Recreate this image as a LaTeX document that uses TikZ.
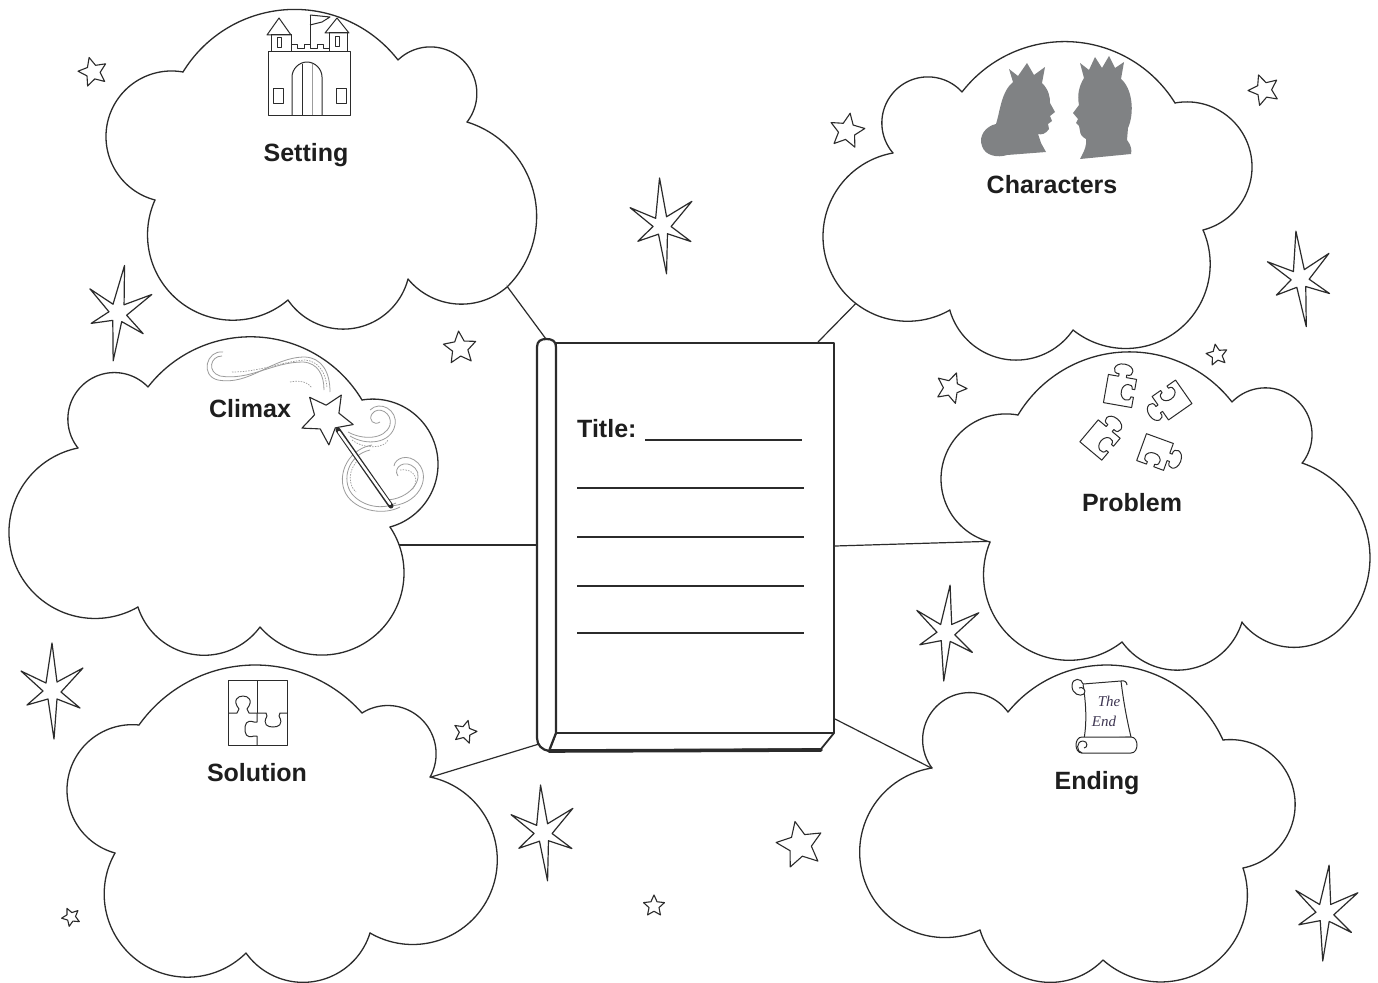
\documentclass[tikz,border=0pt]{standalone}
\usepackage{fontspec}
\newfontfamily\labelfont{Liberation Sans}
\newfontfamily\scrollfont{Liberation Serif}
\usetikzlibrary{shapes.geometric,calc}

\definecolor{ink}{HTML}{2B2B2B}
\definecolor{txt}{HTML}{1E1E1E}
\definecolor{silhouette}{HTML}{808284}
\definecolor{swirlgray}{HTML}{9C9C9C}
\definecolor{scrollink}{HTML}{3E3652}

% circle through A, P, B (px); gives centre, radius and the angle range A -> B passing P
\newcommand\bumpsetup[6]{%
  \pgfmathsetmacro\cbAx{#1/100}\pgfmathsetmacro\cbAy{#2/100}%
  \pgfmathsetmacro\cbPx{#3/100}\pgfmathsetmacro\cbPy{#4/100}%
  \pgfmathsetmacro\cbBx{#5/100}\pgfmathsetmacro\cbBy{#6/100}%
  \pgfmathsetmacro\cbD{2*(\cbAx*(\cbPy-\cbBy)+\cbPx*(\cbBy-\cbAy)+\cbBx*(\cbAy-\cbPy))}%
  \pgfmathsetmacro\cbSA{\cbAx*\cbAx+\cbAy*\cbAy}%
  \pgfmathsetmacro\cbSP{\cbPx*\cbPx+\cbPy*\cbPy}%
  \pgfmathsetmacro\cbSB{\cbBx*\cbBx+\cbBy*\cbBy}%
  \pgfmathsetmacro\cbUx{(\cbSA*(\cbPy-\cbBy)+\cbSP*(\cbBy-\cbAy)+\cbSB*(\cbAy-\cbPy))/\cbD}%
  \pgfmathsetmacro\cbUy{(\cbSA*(\cbBx-\cbPx)+\cbSP*(\cbAx-\cbBx)+\cbSB*(\cbPx-\cbAx))/\cbD}%
  \pgfmathsetmacro\cbR{100*veclen(\cbAx-\cbUx,\cbAy-\cbUy)}%
  \pgfmathsetmacro\cbTa{atan2(\cbAy-\cbUy,\cbAx-\cbUx)}%
  \pgfmathsetmacro\cbTb{atan2(\cbBy-\cbUy,\cbBx-\cbUx)}%
  \pgfmathsetmacro\cbTp{atan2(\cbPy-\cbUy,\cbPx-\cbUx)}%
  \pgfmathsetmacro\cbDb{Mod(\cbTb-\cbTa,360)}%
  \pgfmathsetmacro\cbDp{Mod(\cbTp-\cbTa,360)}%
  \pgfmathsetmacro\cbLo{(\cbDp<\cbDb) ? \cbTa : \cbTa+\cbDb-360}%
  \pgfmathsetmacro\cbHi{(\cbDp<\cbDb) ? \cbTa+\cbDb : \cbTa}%
  \pgfmathsetmacro\cbCx{100*\cbUx}%
  \pgfmathsetmacro\cbCy{100*\cbUy}%
}

% a cloud: list of bumps, and the polygon of its cusps
\newcommand\cloudshape[2]{%
  \fill[white] #2;
  \foreach \pa/\pb/\pc/\pd/\pe/\pf in #1 {%
    \bumpsetup{\pa}{\pb}{\pc}{\pd}{\pe}{\pf}%
    \fill[white] plot[domain=\cbLo:\cbHi, samples=80, variable=\t] ({\cbCx+\cbR*cos(\t)},{\cbCy+\cbR*sin(\t)}) -- cycle;
  }%
  \foreach \pa/\pb/\pc/\pd/\pe/\pf in #1 {%
    \bumpsetup{\pa}{\pb}{\pc}{\pd}{\pe}{\pf}%
    \draw[cloudline] plot[domain=\cbLo:\cbHi, samples=80, variable=\t] ({\cbCx+\cbR*cos(\t)},{\cbCy+\cbR*sin(\t)});
  }%
}

\def\setbumps{183/72/307/10/398/60, 398/60/433/47/467/122, 467/122/536/205/507/287, 507/287/457/304/408/279, 408/279/347/329/288/300, 288/300/227/320/155/200, 155/200/106/135/183/72}
\def\charbumps{962/92/1075/42/1175/103, 1175/103/1252/165/1203/230, 1203/230/1135/348/1073/330, 1073/330/1015/360/950/310, 950/310/823/235/893/153, 893/153/925/77/962/92}
\def\climaxbumps{78/448/108/373/148/387, 148/387/258/337/362/400, 362/400/438/463/390/527, 390/527/325/655/260/627, 260/627/198/655/138/607, 138/607/9/530/78/448}
\def\probbumps{1018/415/1135/352/1232/402, 1232/402/1268/388/1302/463, 1302/463/1370/558/1342/627, 1342/627/1288/647/1242/622, 1242/622/1182/670/1122/642, 1122/642/1062/660/990/542, 990/542/941/478/1018/415}
\def\solbumps{139/725/254/665/362/713, 362/713/434/740/430/777, 430/777/497/867/370/933, 370/933/310/982/246/953, 246/953/182/977/115/853, 115/853/67/790/139/725}
\def\endbumps{1008/712/1107/665/1223/740, 1223/740/1295/800/1243/868, 1243/868/1179/980/1103/960, 1103/960/1043/982/980/930, 980/930/860/860/932/768, 932/768/964/693/1008/712}

\tikzset{
  cloudline/.style={draw=ink, line width=1.3pt, line cap=round, line join=round},
  link/.style={draw=ink, line width=1.2pt},
  lbl/.style={font=\labelfont\bfseries\fontsize{25}{30}\selectfont, text=txt, anchor=base, inner sep=0pt},
  smallstar/.style={star, star points=5, star point ratio=2.1, draw=ink, line width=1.1pt, fill=white, inner sep=0pt},
  twinkleline/.style={draw=ink, line width=1.2pt, fill=white},
  swirl/.style={draw=swirlgray, line width=0.8pt},
  swirldash/.style={draw=swirlgray, line width=0.7pt, dash pattern=on 1.5pt off 1.2pt},
  iconline/.style={draw=ink, line width=1pt},
  coverbox/.style={draw=ink, line width=2pt, fill=white, minimum width=278pt, minimum height=390pt, inner sep=0pt},
  scrolltext/.style={font=\scrollfont\itshape\fontsize{15}{15}\selectfont, text=scrollink, inner sep=0pt},
}

% six-armed twinkle star
\newcommand\twinkle[4]{%
  \draw[twinkleline, shift={(#1,#2)}, rotate=#4, scale=#3] (0,-47) -- (5,-8) -- (31,-22) -- (9,2) -- (28,18) -- (5,9) -- (2,49) -- (-4,9) -- (-25,15) -- (-9,1) -- (-31,-19) -- (-6,-7) -- cycle;}

% one jigsaw piece
\newcommand\puzzlepiece[4]{%
  \draw[iconline, fill=white, shift={(#1,#2)}, rotate=#3, scale=#4] (-11,-11) -- (11,-11) -- (11,-3) -- (13,-3) .. controls (12,-9) and (21,-9) .. (21,0) .. controls (21,9) and (12,9) .. (13,3) -- (11,3) -- (11,11) -- (3,11) -- (3,9) .. controls (8,9) and (7,1) .. (0,1) .. controls (-7,1) and (-8,9) .. (-3,9) -- (-3,11) -- (-11,11) -- cycle;}

\begin{document}
\begin{tikzpicture}[x=1pt,y=-1pt,line join=round]
\useasboundingbox (0,0) rectangle (1378,982);
\fill[white] (0,0) rectangle (1378,982);

% ---------- the book ----------
\node[coverbox] (book) at (695,538) {};
\draw[ink, line width=1.8pt, fill=white] (556,733) -- (834,733) -- (821,749) -- (549,751) -- cycle;
\draw[ink, line width=3.6pt, line cap=round] (549,751) -- (821,750);
\draw[ink, line width=2.2pt, fill=white] (556,733) -- (556,347) .. controls (556,341) and (552,339) .. (546.5,339) .. controls (541,339) and (537,341) .. (537,347) -- (537,738) .. controls (537,745) and (542,750) .. (549,751) -- cycle;
\coordinate (spinetop) at (546,339);
\coordinate (spineleft) at (537,545);
\coordinate (spinefoot) at (539,744);

\node[lbl, anchor=base west] (title) at (577,437) {Title:};
\draw[ink, line width=1.3pt] (645,440) -- (802,440);
\foreach \yy in {488,537,586,633} \draw[ink, line width=1.3pt] (577,\yy) -- (804,\yy);

% ---------- connectors ----------
\coordinate (setlink) at (495,270);
\coordinate (charlink) at (872,287);
\coordinate (climaxlink) at (385,545);
\coordinate (problink) at (1000,541);
\coordinate (sollink) at (418,781);
\coordinate (endlink) at (945,775);
\draw[link] (spinetop) -- (setlink);
\draw[link] ($(book.north east)+(-17,0)$) -- (charlink);
\draw[link] (spineleft) -- (climaxlink);
\draw[link] ($(book.east)+(0,8)$) -- (problink);
\draw[link] (spinefoot) -- (sollink);
\draw[link] ($(book.south east)+(0,-15)$) -- (endlink);

% ---------- clouds ----------
\cloudshape{\setbumps}{(183,72) -- (398,60) -- (467,122) -- (507,287) -- (408,279) -- (288,300) -- (155,200) -- cycle}
\cloudshape{\charbumps}{(962,92) -- (1175,103) -- (1203,230) -- (1073,330) -- (950,310) -- (893,153) -- cycle}
\cloudshape{\climaxbumps}{(78,448) -- (148,387) -- (362,400) -- (390,527) -- (260,627) -- (138,607) -- cycle}
\cloudshape{\probbumps}{(1018,415) -- (1232,402) -- (1302,463) -- (1342,627) -- (1242,622) -- (1122,642) -- (990,542) -- cycle}
\cloudshape{\solbumps}{(139,725) -- (362,713) -- (430,777) -- (370,933) -- (246,953) -- (115,853) -- cycle}
\cloudshape{\endbumps}{(1008,712) -- (1223,740) -- (1243,868) -- (1103,960) -- (980,930) -- (932,768) -- cycle}

% ---------- castle ----------
\begin{scope}[iconline]
  \draw[fill=white] (268,52) rectangle (350,115);
  \draw (271,35) rectangle (291,52);
  \draw (267,35) -- (279,18) -- (291,35) -- cycle;
  \draw (277,38) rectangle (281,48);
  \draw (329,33) rectangle (347,52);
  \draw (325,33) -- (337,18) -- (349,33) -- cycle;
  \draw (335,37) rectangle (339,47);
  \draw (291,52) -- (291,45) -- (297,45) -- (297,49) -- (304,49) -- (304,45) -- (310,45) -- (310,49) -- (317,49) -- (317,45) -- (323,45) -- (323,49) -- (329,49);
  \draw (310,45) -- (310,15);
  \draw (310,15) -- (330,17) -- (322,22) -- (310,25);
  \draw (292,115) -- (292,77) .. controls (292,69) and (299,62) .. (307,62) .. controls (315,62) and (322,69) .. (322,77) -- (322,115);
  \draw (302,64) -- (302,115);
  \draw[draw=swirlgray] (312,64) -- (312,115);
  \draw (273,88) rectangle (283,103);
  \draw (336,88) rectangle (346,103);
\end{scope}

% ---------- queen and king ----------
\fill[silhouette] (1013,82) -- (1009,69) -- (1018,76) -- (1027,63) -- (1034,75) -- (1045,67) -- (1042,83)
  .. controls (1049,90) and (1050,97) .. (1050,103) -- (1055,112) -- (1050,116) -- (1052,121) -- (1048,124) -- (1049,129)
  .. controls (1046,134) and (1041,135) .. (1038,134) -- (1041,143) -- (1046,152) -- (1007,155)
  .. controls (998,158) and (985,156) .. (982,146) .. controls (978,136) and (986,126) .. (996,124)
  .. controls (1000,112) and (1001,92) .. (1013,82) -- cycle;
\fill[silhouette] (1084,78) -- (1080,63) -- (1089,70) -- (1095,57) -- (1102,68) -- (1109,56) -- (1115,68) -- (1124,62) -- (1121,79)
  .. controls (1132,88) and (1135,112) .. (1128,128) -- (1127,140) .. controls (1131,145) and (1132,150) .. (1131,154)
  -- (1080,159) .. controls (1085,150) and (1087,144) .. (1086,139)
  .. controls (1082,137) and (1080,134) .. (1080,131) -- (1079,126) -- (1076,123) -- (1078,119) -- (1073,113) -- (1079,105)
  .. controls (1077,95) and (1079,86) .. (1084,78) -- cycle;

% ---------- magic wand ----------
\draw[swirl] (223,352) .. controls (206,350) and (200,376) .. (218,380) .. controls (250,386) and (272,357) .. (305,357) .. controls (322,358) and (330,372) .. (330,392);
\draw[swirl] (222,356) .. controls (210,356) and (207,372) .. (220,376) .. controls (250,381) and (272,362) .. (303,362) .. controls (318,363) and (324,375) .. (324,390);
\draw[swirldash] (232,372) .. controls (260,372) and (280,362) .. (305,360) .. controls (318,361) and (326,372) .. (327,388);
\draw[swirldash] (290,382) .. controls (300,380) and (308,382) .. (312,388);
\draw[swirl] (348,432) .. controls (362,440) and (385,440) .. (390,425) .. controls (393,413) and (378,405) .. (372,414) .. controls (368,420) and (374,426) .. (380,422);
\draw[swirl] (350,436) .. controls (366,446) and (391,444) .. (395,425) .. controls (398,410) and (380,400) .. (370,410);
\draw[swirldash] (352,440) .. controls (365,450) and (385,448) .. (388,440);
\draw[swirl] (372,445) .. controls (345,450) and (335,480) .. (348,497) .. controls (360,512) and (385,515) .. (400,507);
\draw[swirl] (370,450) .. controls (348,455) and (341,480) .. (352,494) .. controls (363,507) and (383,510) .. (396,503);
\draw[swirldash] (358,460) .. controls (348,470) and (348,485) .. (356,492);
\draw[swirl] (385,500) .. controls (410,500) and (425,478) .. (415,468) .. controls (405,458) and (392,468) .. (398,476);
\draw[swirl] (388,506) .. controls (418,506) and (432,478) .. (418,463) .. controls (408,453) and (395,458) .. (394,466);
\draw[swirldash] (400,470) .. controls (415,468) and (420,480) .. (412,490);
\draw[ink, line width=5pt, line cap=round] (338,430) -- (391,506);
\draw[white, line width=2.4pt, line cap=round] (339,432) -- (390,504);
\node[smallstar, minimum size=54pt, shape border rotate=-32] (wandstar) at (327,418) {};

% ---------- jigsaw pieces ----------
\puzzlepiece{1120}{391}{80}{1.3}
\puzzlepiece{1172}{400}{215}{1.3}
\puzzlepiece{1100}{440}{50}{1.3}
\puzzlepiece{1155}{452}{-20}{1.3}

\begin{scope}[iconline]
  \draw (228,680) rectangle (287,745);
  \draw (257,680) -- (257,713);
  \draw (228,713) -- (237,713) -- (239,709) .. controls (232,700) and (238,696) .. (243,696) .. controls (248,696) and (254,700) .. (247,709) -- (249,713) -- (257,713)
        -- (266,713) -- (267,716) .. controls (262,725) and (268,727) .. (273,727) .. controls (278,727) and (284,725) .. (279,716) -- (280,713) -- (287,713);
  \draw (257,713) -- (257,722) -- (254,722) .. controls (246,719) and (245,725) .. (245,729) .. controls (245,733) and (246,739) .. (254,736) -- (257,736) -- (257,745);
\end{scope}

% ---------- scroll ----------
\begin{scope}[iconline]
  \draw[fill=white] (1083,684) -- (1121,681) .. controls (1123,698) and (1126,716) .. (1131,737) -- (1084,739) .. controls (1087,722) and (1086,703) .. (1083,684);
  \draw[fill=white] (1083,684) .. controls (1082,678) and (1072,677) .. (1072,686) .. controls (1072,694) and (1080,697) .. (1084,694) .. controls (1087,690) and (1082,686) .. (1079,688);
  \draw (1121,681) .. controls (1124,680) and (1127,682) .. (1127,685);
  \draw[fill=white] (1082,737) -- (1131,737) .. controls (1139,737) and (1139,753) .. (1131,753) -- (1082,753) .. controls (1074,753) and (1074,737) .. (1082,737) -- cycle;
  \draw (1082,753) .. controls (1076,752) and (1076,741) .. (1083,741) .. controls (1088,741) and (1088,748) .. (1084,748);
\end{scope}
\node[scrolltext] (scrollthe) at (1109,701) {The};
\node[scrolltext] (scrollend) at (1104,721) {End};

% ---------- labels ----------
\node[lbl] (setting) at (306,161) {Setting};
\node[lbl] (characters) at (1052,193) {Characters};
\node[lbl] (climax) at (250,417) {Climax};
\node[lbl] (problem) at (1132,511) {Problem};
\node[lbl] (solution) at (257,781) {Solution};
\node[lbl] (ending) at (1097,789) {Ending};

% ---------- stars ----------
\node[smallstar, minimum size=30pt, shape border rotate=15] (star1) at (93,72) {};
\node[smallstar, minimum size=36pt, shape border rotate=-10] (star2) at (847,131) {};
\node[smallstar, minimum size=32pt, shape border rotate=20] (star3) at (1264,90) {};
\node[smallstar, minimum size=34pt, shape border rotate=5] (star4) at (460,348) {};
\node[smallstar, minimum size=32pt, shape border rotate=-20] (star5) at (951,388) {};
\node[smallstar, minimum size=22pt, shape border rotate=10] (star6) at (1217,355) {};
\node[smallstar, minimum size=24pt, shape border rotate=-15] (star7) at (465,732) {};
\node[smallstar, minimum size=48pt, shape border rotate=12] (star8) at (800,845) {};
\node[smallstar, minimum size=22pt, shape border rotate=0] (star9) at (654,906) {};
\node[smallstar, minimum size=19pt, shape border rotate=25] (star10) at (71,917) {};

\twinkle{662}{225}{1}{3}
\twinkle{118}{312}{1}{-8}
\twinkle{1300}{278}{1}{5}
\twinkle{52}{690}{1}{0}
\twinkle{946}{632}{1}{-5}
\twinkle{543}{832}{1}{3}
\twinkle{1325}{912}{1}{-5}
\end{tikzpicture}
\end{document}
